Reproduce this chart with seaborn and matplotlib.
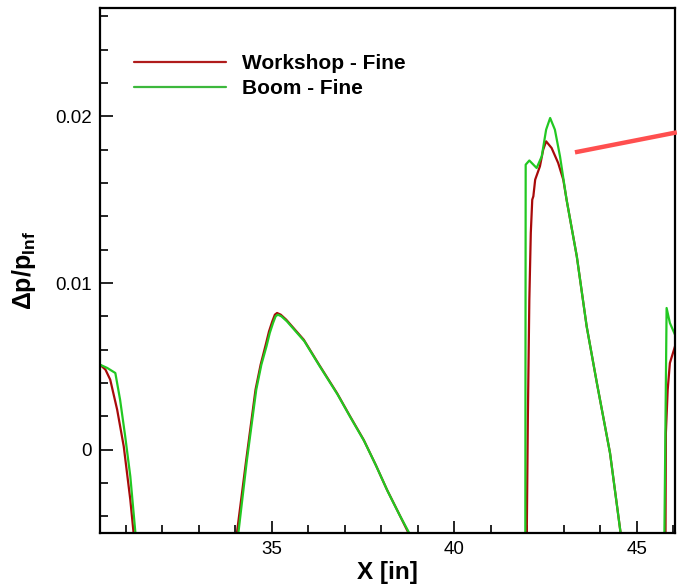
import numpy as np
import pandas as pd
import matplotlib
matplotlib.use("Agg")
import matplotlib.pyplot as plt
from matplotlib.ticker import MultipleLocator, FuncFormatter
import seaborn as sns

# Pressure signature along the sensor rail (x in inches, dp/p_inf)
workshop_x = [30.0, 30.30, 30.45, 30.58, 30.77, 30.95, 31.13, 31.22, 31.35,
              33.9, 34.05, 34.30, 34.56, 34.70, 34.84, 34.93, 35.02, 35.09, 35.15, 35.25,
              35.40, 35.60, 35.88, 36.30, 36.79, 37.15, 37.52, 37.85, 38.16, 38.48, 38.75, 38.9,
              41.9, 41.99, 42.02, 42.06, 42.10, 42.14, 42.17, 42.22, 42.35, 42.44,
              42.52, 42.67, 42.85, 42.99, 43.08, 43.36, 43.63, 43.91, 44.27,
              44.56, 44.65,
              45.70, 45.79, 45.80, 45.85, 45.91, 46.05, 46.2]
workshop_y = [0.0053, 0.0051, 0.0048, 0.0042, 0.0024, 0.0002, -0.0030, -0.0050, -0.0070,
              -0.0070, -0.0050, -0.0007, 0.0036, 0.0051, 0.0063, 0.0071, 0.0077, 0.0081, 0.0082, 0.0081,
              0.0078, 0.0073, 0.0066, 0.0051, 0.0034, 0.0020, 0.0006, -0.0009, -0.0024, -0.0038, -0.0050, -0.0060,
              -0.0070, -0.0050, 0.0020, 0.0090, 0.0130, 0.0150, 0.0152, 0.0162, 0.0170, 0.0180,
              0.0185, 0.0181, 0.0172, 0.0162, 0.0150, 0.0116, 0.0074, 0.0040, -0.0002,
              -0.0050, -0.0060,
              -0.0070, -0.0050, 0.0010, 0.0036, 0.0052, 0.0062, 0.0068]

boom_x = [30.0, 30.30, 30.50, 30.72, 30.85, 30.99, 31.13, 31.27, 31.40,
          33.9, 34.09, 34.32, 34.58, 34.72, 34.86, 34.95, 35.04, 35.11, 35.17, 35.27,
          35.42, 35.62, 35.90, 36.32, 36.81, 37.17, 37.54, 37.87, 38.18, 38.50, 38.77, 38.9,
          41.9, 41.95, 41.96, 42.06, 42.26, 42.40, 42.52, 42.63, 42.76, 42.90,
          43.08, 43.36, 43.63, 43.91, 44.27, 44.56, 44.65,
          45.70, 45.76, 45.82, 45.91, 46.05, 46.2]
boom_y = [0.0053, 0.0051, 0.0049, 0.0046, 0.0030, 0.0008, -0.0016, -0.0050, -0.0070,
          -0.0070, -0.0050, -0.0007, 0.0036, 0.0051, 0.0062, 0.0070, 0.0076, 0.0080, 0.0081, 0.0080,
          0.0077, 0.0072, 0.0065, 0.0050, 0.0033, 0.0019, 0.0005, -0.0010, -0.0025, -0.0039, -0.0050, -0.0060,
          -0.0070, -0.0050, 0.0171, 0.01735, 0.0169, 0.0176, 0.0192, 0.0199, 0.0192, 0.0176,
          0.0150, 0.0116, 0.0074, 0.0040, -0.0002, -0.0050, -0.0060,
          -0.0070, -0.0050, 0.0085, 0.0076, 0.0069, 0.0064]

series_names = ["Workshop - Fine", "Boom - Fine"]
series_colors = ["#a80a0a", "#22c822"]

# Pointer segment toward the peak (data coords)
pointer_x = [43.31, 46.10]
pointer_y = [0.01784, 0.01904]

df = pd.concat([
    pd.DataFrame({"x": workshop_x, "y": workshop_y, "series": series_names[0]}),
    pd.DataFrame({"x": boom_x, "y": boom_y, "series": series_names[1]}),
], ignore_index=True)

sns.set_theme(style="white")
plt.rcParams["font.family"] = ["Liberation Sans", "DejaVu Sans"]
plt.rcParams["mathtext.fontset"] = "custom"
plt.rcParams["mathtext.rm"] = "Liberation Sans"
plt.rcParams["mathtext.bf"] = "Liberation Sans:bold"
for key in ["text.color", "axes.labelcolor", "xtick.color", "ytick.color"]:
    plt.rcParams[key] = "black"

fig = plt.figure(figsize=(6.77, 5.86), dpi=100)
ax = fig.add_axes([100 / 677, 53 / 586, 575 / 677, 525 / 586])

sns.lineplot(data=df, x="x", y="y", hue="series", hue_order=series_names,
             palette=dict(zip(series_names, series_colors)), sort=False,
             estimator=None, units="series", lw=1.6, ax=ax, legend=False)

ax.plot(pointer_x, pointer_y, color="#ff4f4f", lw=3.2, clip_on=False,
        solid_capstyle="butt", zorder=5)

ax.set_xlim(30.3, 46.05)
ax.set_ylim(-0.005, 0.0265)

ax.xaxis.set_major_locator(MultipleLocator(5))
ax.xaxis.set_minor_locator(MultipleLocator(1))
ax.yaxis.set_major_locator(MultipleLocator(0.01))
ax.yaxis.set_minor_locator(MultipleLocator(0.002))
ax.yaxis.set_major_formatter(FuncFormatter(lambda v, p: "0" if abs(v) < 1e-12 else f"{v:g}"))

ax.tick_params(which="both", direction="in", bottom=True, left=True, top=False,
               right=False, width=1.2, color="black")
ax.tick_params(which="major", length=9, labelsize=13.5, pad=6)
ax.tick_params(which="minor", length=5.5)

for s in ax.spines.values():
    s.set_color("black")
    s.set_linewidth(1.6)

ax.set_xlabel("X [in]", fontsize=17.5, fontweight="bold", labelpad=2)
ax.set_ylabel(r"Δp/p$_{\mathbf{Inf}}$", fontsize=18, fontweight="bold", labelpad=12)

handles = [plt.Line2D([], [], color=c, lw=1.6) for c in ["#b01c1c", "#3cb83c"]]
ax.legend(handles, series_names, loc="upper left", bbox_to_anchor=(0.059, 0.912),
          frameon=False, borderpad=0, borderaxespad=0, handlelength=4.4,
          handletextpad=0.8, labelspacing=0.27,
          prop={"family": "Liberation Sans", "weight": "bold", "size": 15})

fig.savefig("out.png", dpi=100)
